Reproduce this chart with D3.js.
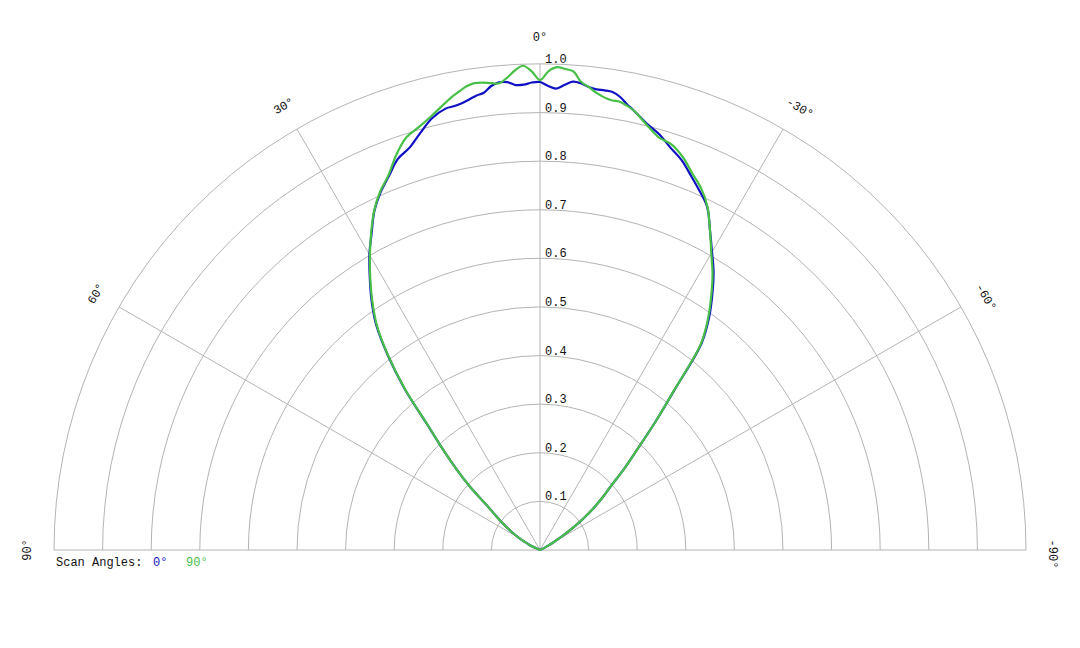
<!DOCTYPE html>
<html>
<head>
<meta charset="utf-8">
<script src="https://cdn.jsdelivr.net/npm/d3@7"></script>
<style>
  html, body { margin: 0; padding: 0; background: #fff; }
  svg { display: block; }
  text { font-family: "Courier New", "Liberation Mono", "DejaVu Sans Mono", monospace; }
</style>
</head>
<body>
<svg id="chart" width="1080" height="648"></svg>
<script>
// ---- data (angles in degrees; positive = left of vertical) ----
const angles = [-90,-70,-64,-62,-60,-58,-56,-54,-52,-50,-48,-46,-44,-42,-40,-38,-36,-34,-32,-30,-28,-26,-24,-22,-20,-18,-16,-14,-12,-11,-10,-9,-8,-7,-6,-5,-4,-3,-2,-1,0,1,2,3,4,5,6,7,8,9,10,11,12,14,16,18,20,22,24,26,28,30,32,34,36,38,40,42,44,46,48,50,52,54,56,58,60,62,64,70,90];
const scan0 = [0,0,0.010,0.020,0.032,0.054,0.083,0.111,0.139,0.168,0.196,0.241,0.289,0.355,0.432,0.540,0.592,0.634,0.674,0.708,0.745,0.785,0.808,0.830,0.853,0.870,0.890,0.905,0.925,0.935,0.947,0.954,0.955,0.955,0.958,0.964,0.966,0.958,0.950,0.955,0.963,0.962,0.958,0.958,0.965,0.966,0.960,0.948,0.944,0.938,0.933,0.930,0.929,0.916,0.893,0.870,0.856,0.830,0.806,0.777,0.738,0.702,0.661,0.620,0.574,0.509,0.434,0.345,0.287,0.238,0.192,0.142,0.117,0.098,0.080,0.065,0.051,0.036,0.025,0,0];
const scan90 = [0,0,0.010,0.020,0.032,0.054,0.083,0.111,0.139,0.168,0.196,0.241,0.289,0.355,0.430,0.537,0.588,0.630,0.670,0.705,0.745,0.786,0.815,0.836,0.860,0.877,0.884,0.903,0.925,0.932,0.937,0.937,0.941,0.948,0.958,0.967,0.987,0.991,0.994,0.985,0.967,0.985,0.997,0.988,0.974,0.964,0.966,0.969,0.970,0.966,0.958,0.950,0.940,0.921,0.905,0.892,0.865,0.832,0.808,0.778,0.740,0.700,0.659,0.617,0.571,0.507,0.432,0.344,0.287,0.238,0.192,0.142,0.117,0.098,0.080,0.065,0.051,0.036,0.025,0,0];
const ringTicks = [0.1,0.2,0.3,0.4,0.5,0.6,0.7,0.8,0.9,1.0];
const ringLabels = ["0.1","0.2","0.3","0.4","0.5","0.6","0.7","0.8","0.9","1.0"];
const spokeAngles = [90,60,30,0,-30,-60,-90];
const spokeLabels = ["90°","60°","30°","0°","-30°","-60°","-90°"];
const legendTitle = "Scan Angles:";
const seriesNames = ["0°","90°"];
const seriesColors = ["#1010c4","#48c048"];

// ---- layout ----
const svg = d3.select("#chart");
const cx = 540, cy = 550, R = 486;
const r = d3.scaleLinear().domain([0, 1]).range([0, R]);
const toRad = d => -d * Math.PI / 180;   // d3 radial: 0 = up, clockwise positive
const gridColor = "#b4b4b4";

const g = svg.append("g").attr("transform", `translate(${cx},${cy})`);

// rings
g.selectAll("path.ring").data(ringTicks).join("path")
  .attr("class", "ring")
  .attr("fill", "none")
  .attr("stroke", gridColor)
  .attr("stroke-width", 1)
  .attr("d", t => {
    const p = d3.path();
    p.arc(0, 0, r(t), Math.PI, 2 * Math.PI);
    return p.toString();
  });

// spokes
g.selectAll("line.spoke").data(spokeAngles.filter(a => Math.abs(a) !== 90)).join("line")
  .attr("class", "spoke")
  .attr("x1", 0).attr("y1", 0)
  .attr("x2", a => r(1) * Math.sin(toRad(a)))
  .attr("y2", a => -r(1) * Math.cos(toRad(a)))
  .attr("stroke", gridColor).attr("stroke-width", 1);
// baseline (±90)
g.append("line")
  .attr("x1", -r(1)).attr("y1", 0).attr("x2", r(1)).attr("y2", 0)
  .attr("stroke", gridColor).attr("stroke-width", 1);

// ring labels
g.selectAll("text.rl").data(ringTicks).join("text")
  .attr("class", "rl")
  .attr("x", 5)
  .attr("y", t => -r(t) - 1)
  .attr("font-size", 12)
  .attr("fill", "#111")
  .text((t, i) => ringLabels[i]);

// spoke labels
const labR = R + 26;
g.selectAll("text.sl").data(spokeAngles).join("text")
  .attr("class", "sl")
  .attr("transform", a => {
    const x = labR * Math.sin(toRad(a));
    const y = -labR * Math.cos(toRad(a));
    return `translate(${x},${y}) rotate(${-a})`;
  })
  .attr("text-anchor", "middle")
  .attr("dominant-baseline", "central")
  .attr("dx", a => a < 0 ? 4 : 0)
  .attr("font-size", 12)
  .attr("fill", "#111")
  .text((a, i) => spokeLabels[i]);

// curves
const line = d3.lineRadial()
  .angle(d => toRad(d[0]))
  .radius(d => r(d[1]))
  .curve(d3.curveCatmullRom.alpha(0.5));

[scan0, scan90].forEach((vals, i) => {
  g.append("path")
    .datum(angles.map((a, k) => [a, vals[k]]))
    .attr("fill", "none")
    .attr("stroke", seriesColors[i])
    .attr("stroke-width", 2.2)
    .attr("stroke-linejoin", "round")
    .attr("d", line);
});

// legend
const lg = svg.append("g").attr("transform", "translate(56,566)");
lg.append("text").attr("x", 0).attr("y", 0).attr("font-size", 12).attr("fill", "#111").text(legendTitle);
lg.append("text").attr("x", 97).attr("y", 0).attr("font-size", 12).attr("fill", seriesColors[0]).text(seriesNames[0]);
lg.append("text").attr("x", 130).attr("y", 0).attr("font-size", 12).attr("fill", seriesColors[1]).text(seriesNames[1]);
</script>
</body>
</html>
